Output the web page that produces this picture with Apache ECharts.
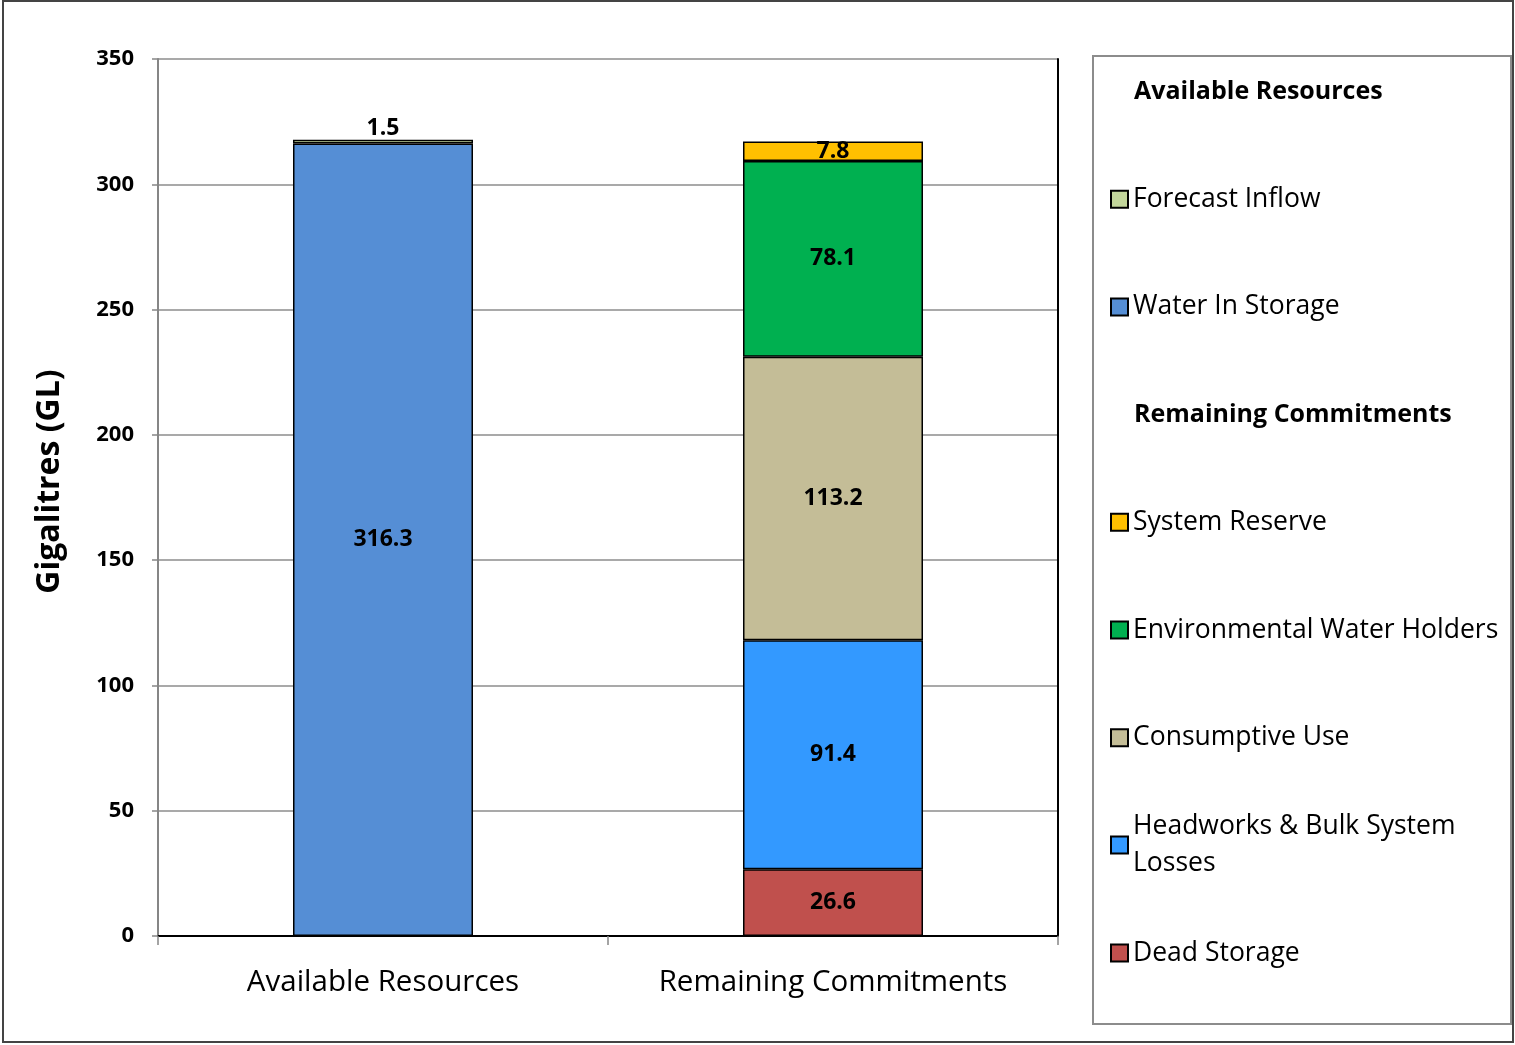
<!DOCTYPE html>
<html>
<head>
<meta charset="utf-8">
<script src="https://cdn.jsdelivr.net/npm/echarts@6/dist/echarts.min.js"></script>
<style>
html, body { margin: 0; padding: 0; background: #fff; }
#chart { width: 1515px; height: 1045px; }
</style>
</head>
<body>
<div id="chart"></div>
<script>
// data
const categories = ['Available Resources', 'Remaining Commitments']
const waterInStorage = [316.3, '-']
const forecastInflow = [1.5, '-']
const deadStorage = ['-', 26.6]
const headworksLosses = ['-', 91.4]
const consumptiveUse = ['-', 113.2]
const environmentalWater = ['-', 78.1]
const systemReserve = ['-', 7.8]
const yMin = 0
const yMax = 350
const yStep = 50

const FONT = '"Open Sans", "Noto Sans", sans-serif'

// series, bottom to top
const seriesDefs = [
  { name: 'Water In Storage', data: waterInStorage, color: '#558ED5' },
  { name: 'Forecast Inflow', data: forecastInflow, color: '#C3D69B', labelPos: 'top' },
  { name: 'Dead Storage', data: deadStorage, color: '#C0504D' },
  { name: 'Headworks & Bulk System Losses', data: headworksLosses, color: '#3399FF' },
  { name: 'Consumptive Use', data: consumptiveUse, color: '#C4BD97' },
  { name: 'Environmental Water Holders', data: environmentalWater, color: '#00B050' },
  { name: 'System Reserve', data: systemReserve, color: '#FFC000' },
]

// legend rows (headers are bold titles)
const legendRows = [
  { header: 'Available Resources' },
  { name: 'Forecast Inflow' },
  { name: 'Water In Storage' },
  { header: 'Remaining Commitments' },
  { name: 'System Reserve' },
  { name: 'Environmental Water Holders' },
  { name: 'Consumptive Use' },
  { name: 'Headworks & Bulk System Losses', wrap: true },
  { name: 'Dead Storage' },
]

const rowTop = 91
const rowStep = 107.7
const titles = []
const legends = []
legendRows.forEach((row, i) => {
  const y = rowTop + i * rowStep
  if (row.header) {
    titles.push({
      text: row.header,
      left: 1134,
      top: y - 12,
      padding: 0,
      textStyle: { fontFamily: FONT, fontSize: 25, fontWeight: 'bold', color: '#000' },
    })
  } else {
    const ts = { fontFamily: FONT, fontSize: 26.5, color: '#000' }
    let top = y - 13
    if (row.wrap) {
      ts.width = 340
      ts.overflow = 'break'
      ts.lineHeight = 37
      ts.padding = [37, 0, 0, 0]
      top = y - 55.5
    }
    legends.push({
      orient: 'vertical',
      left: 1110,
      top: top,
      padding: 0,
      icon: 'rect',
      itemWidth: 17,
      itemHeight: 17,
      selectedMode: false,
      data: [row.name],
      textStyle: ts,
    })
  }
})

const chart = echarts.init(document.getElementById('chart'))
chart.setOption({
  backgroundColor: '#fff',
  animation: false,
  title: titles,
  legend: legends,
  grid: { left: 158, right: 457, top: 59, bottom: 109 },
  xAxis: [
    {
      type: 'category',
      data: categories,
      axisLine: { lineStyle: { color: '#868686', width: 2 } },
      axisTick: { show: true, interval: 0, length: 9, lineStyle: { color: '#868686', width: 1.5 } },
      axisLabel: { interval: 0, fontFamily: FONT, fontSize: 29.5, color: '#000', margin: 32 },
    },
    {
      type: 'category',
      position: 'top',
      data: categories,
      axisLine: { lineStyle: { color: '#000', width: 2 } },
      axisTick: { show: false },
      axisLabel: { show: false },
    },
  ],
  yAxis: [
    {
      type: 'value',
      min: yMin,
      max: yMax,
      interval: yStep,
      name: 'Gigalitres (GL)',
      nameLocation: 'middle',
      nameGap: 92,
      nameTextStyle: {
        fontFamily: FONT,
        fontSize: 32,
        fontWeight: 'bold',
        color: '#000',
        padding: [0, 0, 0, 32],
      },
      axisLine: { show: true, lineStyle: { color: '#868686', width: 2 } },
      axisTick: { show: true, length: 6, lineStyle: { color: '#868686', width: 1.5 } },
      axisLabel: { fontFamily: FONT, fontSize: 22, fontWeight: 'bold', color: '#000', margin: 24 },
      splitLine: { lineStyle: { color: '#8c8c8c', width: 1.5 } },
    },
    {
      type: 'value',
      position: 'right',
      min: yMin,
      max: yMax,
      interval: yStep,
      axisLine: { show: true, lineStyle: { color: '#000', width: 2 } },
      axisTick: { show: false },
      axisLabel: { show: false },
      splitLine: { show: false },
    },
  ],
  graphic: [
    {
      type: 'rect',
      shape: { x: 3, y: 1, width: 1510, height: 1041 },
      style: { fill: null, stroke: '#444', lineWidth: 2 },
      silent: true,
    },
    {
      type: 'rect',
      shape: { x: 1093, y: 56, width: 418, height: 968 },
      style: { fill: null, stroke: '#8c8c8c', lineWidth: 2 },
      silent: true,
    },
  ],
  series: seriesDefs.map((s) => ({
    name: s.name,
    type: 'bar',
    stack: 'total',
    barWidth: '40%',
    data: s.data,
    itemStyle: { color: s.color, borderColor: '#000', borderWidth: 1.5 },
    label: {
      show: true,
      position: s.labelPos || 'inside',
      distance: 0,
      fontFamily: FONT,
      fontSize: 23,
      fontWeight: 'bold',
      color: '#000',
    },
  })),
})
</script>
</body>
</html>
